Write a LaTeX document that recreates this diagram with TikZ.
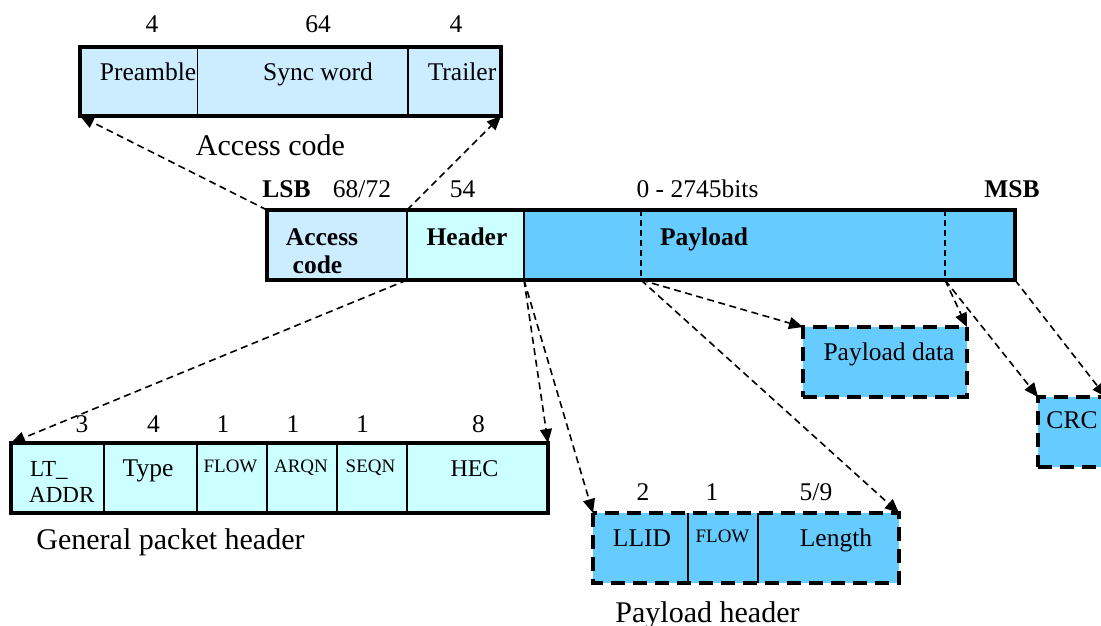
\documentclass[tikz,border=0pt]{standalone}
\usepackage{fontspec}
\setmainfont{Liberation Serif}
\usetikzlibrary{arrows.meta}
\definecolor{acblue}{HTML}{CCECFF}
\definecolor{hdrcyan}{HTML}{CCFFFF}
\definecolor{paysky}{HTML}{66CCFF}
\tikzset{
  fld/.style={rectangle, inner sep=0pt, outer sep=0pt, anchor=north west, minimum height=70pt},
  frame/.style={line width=3.2pt},
  divider/.style={line width=1.8pt},
  softdiv/.style={line width=1.5pt, dash pattern=on 6pt off 4pt},
  dashframe/.style={draw, line width=3.8pt, dash pattern=on 14pt off 8pt},
  conn/.style={line width=1.6pt, dash pattern=on 7pt off 4.5pt, -{Triangle[length=14pt,width=12pt]}},
  txt/.style={anchor=base, inner sep=0pt, font=\fontsize{25.5}{28}\selectfont},
  btxt/.style={txt, font=\fontsize{25.5}{28}\selectfont\bfseries},
  smalltxt/.style={txt, font=\fontsize{19}{22}\selectfont},
  caption/.style={txt, font=\fontsize{30}{34}\selectfont},
}
\begin{document}
\begin{tikzpicture}[x=1pt, y=-1pt]
\useasboundingbox (0,0) rectangle (1101,625);

% ---- access code ----
\node[fld, fill=acblue, minimum width=117.5pt, minimum height=69pt] (pre) at (80,47) {};
\node[fld, fill=acblue, minimum width=210.2pt, minimum height=69pt] (sync) at (pre.north east) {};
\node[fld, fill=acblue, minimum width=93.3pt, minimum height=69pt] (trl) at (sync.north east) {};
\draw[divider] (pre.north east) -- (pre.south east);
\draw[divider] (sync.north east) -- (sync.south east);
\draw[frame] (pre.north west) rectangle (trl.south east);
\node[txt] (npre) at (152,32) {4};
\node[txt] (nsync) at (318,32) {64};
\node[txt] (ntrl) at (456,32) {4};
\node[txt] (tpre) at (148,80) {Preamble};
\node[txt] (tsync) at (318,80) {Sync word};
\node[txt] (ttrl) at (462,80) {Trailer};
\node[caption] (cac) at (270.5,155) {Access code};

% ---- packet ----
\node[fld, fill=acblue, minimum width=140pt] (ac) at (267,210) {};
\node[fld, fill=hdrcyan, minimum width=117pt] (hdr) at (ac.north east) {};
\node[fld, fill=paysky, minimum width=117pt] (pay1) at (hdr.north east) {};
\node[fld, fill=paysky, minimum width=304pt] (pay2) at (pay1.north east) {};
\node[fld, fill=paysky, minimum width=70pt] (pay3) at (pay2.north east) {};
\draw[divider] (ac.north east) -- (ac.south east);
\draw[divider] (hdr.north east) -- (hdr.south east);
\draw[softdiv] (pay2.north west) -- (pay2.south west);
\draw[softdiv] (pay2.north east) -- (pay2.south east);
\draw[frame] (ac.north west) rectangle (pay3.south east);
\node[btxt] (lsb) at (286.5,197) {LSB};
\node[txt] (nac) at (362,197) {68/72};
\node[txt] (nhdr) at (462.5,197) {54};
\node[txt] (npay) at (697.5,197) {0 - 2745bits};
\node[btxt] (msb) at (1012,197) {MSB};
\node[btxt] (tac1) at (322,245) {Access};
\node[btxt] (tac2) at (317.5,273) {code};
\node[btxt] (thdr) at (467,245) {Header};
\node[btxt] (tpay) at (704,245) {Payload};

% ---- payload data and CRC ----
\node[fld, fill=paysky, dashframe, minimum width=164pt] (pdata) at (803,327) {};
\node[txt] (tpdata) at (889,360) {Payload data};
\node[fld, fill=paysky, dashframe, minimum width=68pt] (crc) at (1038,397) {};
\node[txt] (tcrc) at (1072,428) {CRC};

% ---- general packet header ----
\node[fld, fill=hdrcyan, minimum width=92.6pt] (lt) at (11,443) {};
\node[fld, fill=hdrcyan, minimum width=93.4pt] (type) at (lt.north east) {};
\node[fld, fill=hdrcyan, minimum width=70pt] (gflow) at (type.north east) {};
\node[fld, fill=hdrcyan, minimum width=70pt] (arqn) at (gflow.north east) {};
\node[fld, fill=hdrcyan, minimum width=70pt] (seqn) at (arqn.north east) {};
\node[fld, fill=hdrcyan, minimum width=141pt] (hec) at (seqn.north east) {};
\foreach \f in {lt,type,gflow,arqn,seqn}
  \draw[divider] (\f.north east) -- (\f.south east);
\draw[frame] (lt.north west) rectangle (hec.south east);
\node[txt] (nlt) at (82,432) {3};
\node[txt] (ntype) at (153.6,432) {4};
\node[txt] (ngflow) at (223,432) {1};
\node[txt] (narqn) at (293,432) {1};
\node[txt] (nseqn) at (362.5,432) {1};
\node[txt] (nhec) at (478.6,432) {8};
\node[txt, anchor=base west, font=\fontsize{23}{26}\selectfont] (tlt1) at (30,476) {LT\_};
\node[txt, anchor=base west, font=\fontsize{23}{26}\selectfont] (tlt2) at (29,502) {ADDR};
\node[txt] (ttype) at (148,476) {Type};
\node[smalltxt] (tgflow) at (230.5,472) {FLOW};
\node[smalltxt] (tarqn) at (301,472) {ARQN};
\node[smalltxt] (tseqn) at (370.5,472) {SEQN};
\node[txt, font=\fontsize{24}{27}\selectfont] (thec) at (474.5,476) {HEC};
\node[caption] (cgen) at (170.5,549) {General packet header};

% ---- payload header ----
\node[fld, fill=paysky, minimum width=95pt] (llid) at (593,513) {};
\node[fld, fill=paysky, minimum width=70pt] (pflow) at (llid.north east) {};
\node[fld, fill=paysky, minimum width=141pt] (plen) at (pflow.north east) {};
\draw[divider] (llid.north east) -- (llid.south east);
\draw[divider] (pflow.north east) -- (pflow.south east);
\draw[dashframe] (llid.north west) rectangle (plen.south east);
\node[txt] (nllid) at (643,500) {2};
\node[txt] (npflow) at (712,500) {1};
\node[txt] (nplen) at (816,500) {5/9};
\node[txt] (tllid) at (642,546) {LLID};
\node[smalltxt] (tpflow) at (722.5,542) {FLOW};
\node[txt] (tplen) at (836,546) {Length};
\node[caption] (cph) at (707.5,622) {Payload header};

% ---- connectors ----
\draw[conn] (ac.north west) -- (pre.south west);
\draw[conn] (ac.north east) -- (trl.south east);
\draw[conn] (ac.south east) -- (lt.north west);
\draw[conn] (hdr.south east) -- (hec.north east);
\draw[conn] (hdr.south east) -- (llid.north west);
\draw[conn] (pay2.south west) -- (pdata.north west);
\draw[conn] (pay2.south west) -- (plen.north east);
\draw[conn] (pay2.south east) -- (pdata.north east);
\draw[conn] (pay2.south east) -- (crc.north west);
\draw[conn] (pay3.south east) -- (crc.north east);
\end{tikzpicture}
\end{document}
